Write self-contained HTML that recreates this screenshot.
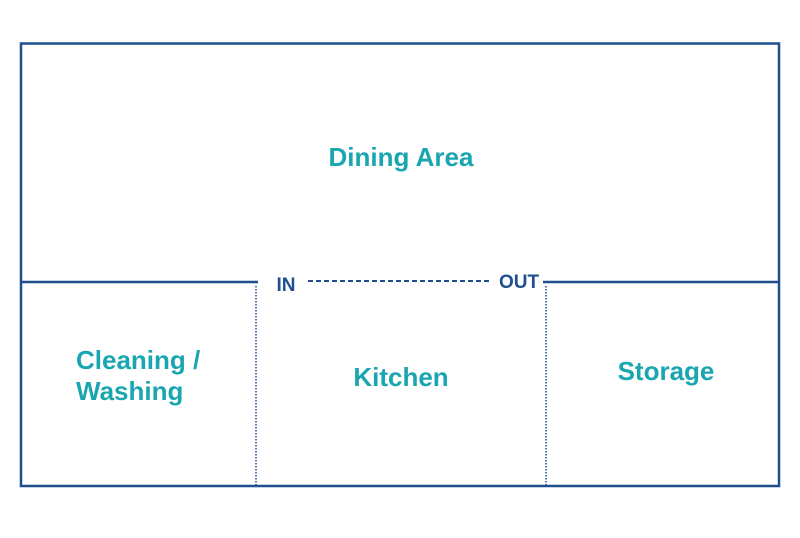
<!DOCTYPE html>
<html><head><style>
body{margin:0;background:#fff;width:800px;height:533px;overflow:hidden}
svg text{font-family:"Liberation Sans",Arial,sans-serif;font-weight:bold}
</style></head><body>
<svg width="800" height="533" viewBox="0 0 800 533">
<rect x="21" y="43.5" width="758" height="442.5" fill="none" stroke="#1f4f8f" stroke-width="2.5"/>
<line x1="21" y1="282" x2="258" y2="282" stroke="#1f4f8f" stroke-width="2.5"/>
<line x1="543" y1="282" x2="779" y2="282" stroke="#1f4f8f" stroke-width="2.5"/>
<line x1="308" y1="281" x2="492" y2="281" stroke="#1f4f8f" stroke-width="2" stroke-dasharray="5,3"/>
<line x1="256" y1="286" x2="256" y2="486" stroke="#1f4f8f" stroke-width="1.5" stroke-dasharray="1.5,1.5"/>
<line x1="546" y1="286" x2="546" y2="486" stroke="#1f4f8f" stroke-width="1.5" stroke-dasharray="1.5,1.5"/>
<text x="286" y="291" font-size="19" fill="#1f4f8f" text-anchor="middle">IN</text>
<text x="519" y="288" font-size="19" fill="#1f4f8f" text-anchor="middle">OUT</text>
<g fill="#1aa6b0" font-size="26">
<text x="401" y="166" text-anchor="middle">Dining Area</text>
<text x="76" y="369">Cleaning /</text>
<text x="76" y="400">Washing</text>
<text x="401" y="386" text-anchor="middle">Kitchen</text>
<text x="666" y="380" text-anchor="middle">Storage</text>
</g>
</svg>
</body></html>
